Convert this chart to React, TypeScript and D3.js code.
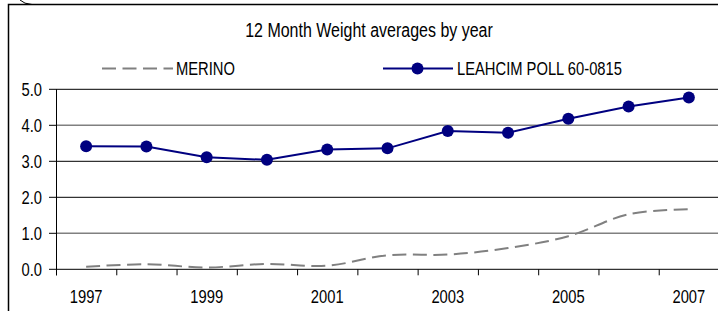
import React from 'react';
import * as d3 from 'd3';

const years = ['1997', '1998', '1999', '2000', '2001', '2002', '2003', '2004', '2005', '2006', '2007'];
const merino = [0.07, 0.14, 0.05, 0.15, 0.1, 0.39, 0.41, 0.59, 0.92, 1.53, 1.67];
const leahcim = [3.42, 3.41, 3.11, 3.04, 3.33, 3.36, 3.84, 3.79, 4.18, 4.52, 4.77];
const yTicks = [0, 1, 2, 3, 4, 5];
const xLabels = ['1997', '1999', '2001', '2003', '2005', '2007'];

const W = 718;
const H = 311;
const font = '"Liberation Sans", Arial, sans-serif';

// the source font is a condensed Arial; squeeze the regular one
function Narrow(props: { x: number; y: number; size: number; anchor?: string; children: React.ReactNode }) {
  return (
    <g transform={`translate(${props.x},${props.y}) scale(0.82,1)`}>
      <text x={0} y={0} fontSize={props.size} textAnchor={props.anchor || 'start'} fill="#000">
        {props.children}
      </text>
    </g>
  );
}

export default function App() {
  const x = d3.scaleBand().domain(years).range([56, 719]);
  const y = d3.scaleLinear().domain([0, 5]).range([269.3, 89.3]);
  const cx = (d: string) => (x(d) as number) + x.bandwidth() / 2;

  const merinoLine = d3.line<number>()
    .x((d, i) => cx(years[i]))
    .y(d => y(d))
    .curve(d3.curveCatmullRom.alpha(0.5));
  const leahcimLine = d3.line<number>()
    .x((d, i) => cx(years[i]))
    .y(d => y(d));

  const y0 = y(0);

  return (
    <svg width={W} height={H} style={{ position: 'absolute', left: 0, top: 0, background: '#fff' }}
      fontFamily={font}>
      {/* outer frame */}
      <path d="M8.5,311 V4.5 H718" fill="none" stroke="#000" strokeWidth={1.5} />
      <path d="M20,0 Q24,4 32,4.5" fill="none" stroke="#000" strokeWidth={1} />

      <Narrow x={369} y={37} size={19.5} anchor="middle">12 Month Weight averages by year</Narrow>

      {/* legend */}
      <line x1={102} x2={173} y1={68.5} y2={68.5} stroke="#808080" strokeWidth={2} strokeDasharray="14,6.5" />
      <Narrow x={176} y={75} size={18}>MERINO</Narrow>
      <line x1={383} x2={453} y1={68.5} y2={68.5} stroke="#000080" strokeWidth={2} />
      <circle cx={417.5} cy={68.5} r={6} fill="#000080" />
      <Narrow x={457} y={75} size={18}>LEAHCIM POLL 60-0815</Narrow>

      {/* gridlines */}
      {yTicks.map(t => (
        <line key={t} x1={56} x2={W} y1={y(t)} y2={y(t)}
          stroke={t === 1 || t === 4 ? '#808080' : '#000'} strokeWidth={t === 1 || t === 4 ? 1.6 : 1} />
      ))}
      {/* y axis */}
      <line x1={56.5} x2={56.5} y1={y(5)} y2={y0 + 6} stroke="#000" />
      {yTicks.map(t => (
        <g key={'yt' + t}>
          <line x1={49} x2={56} y1={y(t)} y2={y(t)} stroke="#000" />
          <Narrow x={42} y={y(t) + 6.5} size={18} anchor="end">{t.toFixed(1)}</Narrow>
        </g>
      ))}
      {/* x ticks */}
      {years.map(yr => (
        <line key={'xt' + yr} x1={(x(yr) as number) + 0.5} x2={(x(yr) as number) + 0.5} y1={y0} y2={y0 + 6} stroke="#000" />
      ))}
      {xLabels.map(yr => (
        <Narrow key={'xl' + yr} x={cx(yr)} y={302.5} size={18} anchor="middle">{yr}</Narrow>
      ))}

      {/* series */}
      <path d={merinoLine(merino) || ''} fill="none" stroke="#808080" strokeWidth={2} strokeDasharray="14,6.5" />
      <path d={leahcimLine(leahcim) || ''} fill="none" stroke="#000080" strokeWidth={2} />
      {leahcim.map((v, i) => (
        <circle key={'p' + i} cx={cx(years[i])} cy={y(v)} r={6} fill="#000080" />
      ))}
    </svg>
  );
}
